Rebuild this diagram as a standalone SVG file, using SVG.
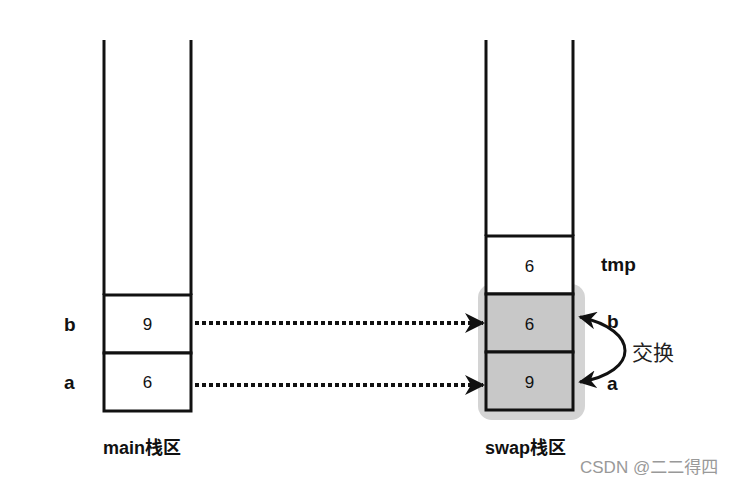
<svg xmlns="http://www.w3.org/2000/svg" width="730" height="482" viewBox="0 0 730 482">
<style>
.ln{stroke:#111;stroke-width:3;fill:none}
.box{stroke:#111;stroke-width:3;fill:#fff}
.sh{stroke:#111;stroke-width:3;fill:#c8c8c8}
.num{font-family:"Liberation Sans",Arial,sans-serif;font-size:17px;fill:#111;text-anchor:middle}
.lbl{font-family:"Liberation Sans",Arial,sans-serif;font-size:19px;font-weight:bold;fill:#111}
.cjk{font-family:"Liberation Sans","Noto Sans CJK SC",sans-serif;font-size:18px;font-weight:bold;fill:#111}
.dot{stroke:#111;stroke-width:4;stroke-dasharray:4 3;fill:none}
</style>
<defs>
<marker id="ah" viewBox="0 0 10 10" refX="9" refY="5" markerWidth="5" markerHeight="5" orient="auto" markerUnits="strokeWidth">
<path d="M0,0 L10,5 L0,10 L3,5 Z" fill="#111"/>
</marker>
<marker id="ah2" viewBox="0 0 10 10" refX="9" refY="5" markerWidth="6" markerHeight="6" orient="auto-start-reverse" markerUnits="strokeWidth">
<path d="M0,0 L10,5 L0,10 L3,5 Z" fill="#111"/>
</marker>
</defs>
<rect width="730" height="482" fill="#fff"/>
<g id="main-stack">
<line class="ln" x1="104" y1="40" x2="104" y2="295"/>
<line class="ln" x1="191" y1="40" x2="191" y2="295"/>
<text class="cjk" x="103" y="454">main栈区</text>
</g>
<g id="main-b">
<rect class="box" x="104" y="295" width="87" height="58"/>
<text class="num" x="147.5" y="330">9</text>
<text class="lbl" x="64" y="331">b</text>
</g>
<g id="main-a">
<rect class="box" x="104" y="353" width="87" height="58"/>
<text class="num" x="147.5" y="388">6</text>
<text class="lbl" x="64" y="389">a</text>
</g>
<g id="swap-stack">
<line class="ln" x1="486" y1="40" x2="486" y2="236"/>
<line class="ln" x1="573" y1="40" x2="573" y2="236"/>
<rect x="478" y="284" width="107" height="136" rx="14" fill="#d4d4d4"/>
<text class="cjk" x="485" y="454">swap栈区</text>
</g>
<g id="swap-tmp">
<rect class="box" x="486" y="236" width="87" height="58"/>
<text class="num" x="529.5" y="272">6</text>
<text class="lbl" x="601" y="271">tmp</text>
</g>
<g id="swap-b">
<rect class="sh" x="486" y="294" width="87" height="58"/>
<text class="num" x="529.5" y="330">6</text>
<text class="lbl" x="607" y="328">b</text>
</g>
<g id="swap-a">
<rect class="sh" x="486" y="352" width="87" height="58"/>
<text class="num" x="529.5" y="388">9</text>
<text class="lbl" x="607" y="390">a</text>
</g>
<g id="connectors">
<line class="dot" x1="195" y1="323" x2="483" y2="323" marker-end="url(#ah)"/>
<line class="dot" x1="195" y1="385" x2="483" y2="385" marker-end="url(#ah)"/>
<path d="M580,317 C640,330 640,372 580,382" stroke="#111" stroke-width="3" fill="none" marker-start="url(#ah2)" marker-end="url(#ah2)"/>
</g>
<text x="632" y="360" style="font-family:'Noto Sans CJK SC',sans-serif;font-size:21px;fill:#222">交换</text>
<text x="580" y="473" style="font-family:'Liberation Sans','Noto Sans CJK SC',sans-serif;font-size:17px;fill:#999">CSDN @二二得四</text>
</svg>
